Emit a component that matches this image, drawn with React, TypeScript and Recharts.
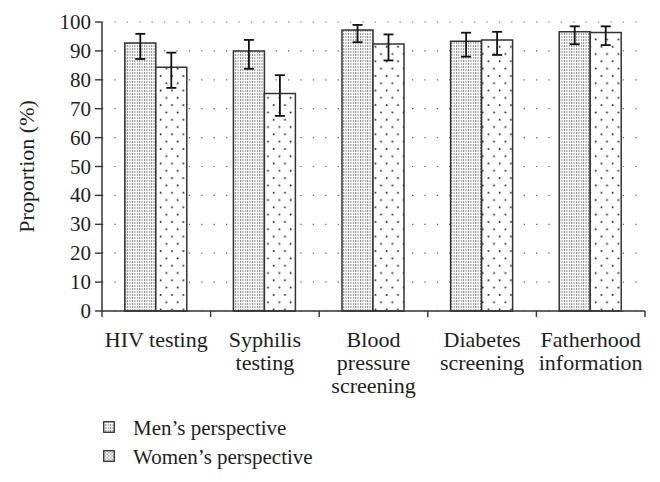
import React from 'react';
import { BarChart, Bar, XAxis, YAxis, CartesianGrid, ErrorBar, Legend } from 'recharts';

const categories = [
  'HIV testing',
  'Syphilis\ntesting',
  'Blood\npressure\nscreening',
  'Diabetes\nscreening',
  'Fatherhood\ninformation',
];
const menValues = [92.7, 90.0, 97.2, 93.3, 96.6];
const menLow = [87.2, 83.8, 93.0, 88.0, 92.3];
const menHigh = [95.9, 93.8, 99.0, 96.3, 98.5];
const womenValues = [84.3, 75.3, 92.4, 93.8, 96.4];
const womenLow = [77.2, 67.5, 86.7, 88.6, 92.0];
const womenHigh = [89.4, 81.6, 95.7, 96.6, 98.5];
const yTicks = [0, 10, 20, 30, 40, 50, 60, 70, 80, 90, 100];
const seriesNames = ['Men’s perspective', 'Women’s perspective'];

const data = categories.map((c, i) => ({
  category: c,
  men: menValues[i],
  women: womenValues[i],
  menErr: [+(menValues[i] - menLow[i]).toFixed(2), +(menHigh[i] - menValues[i]).toFixed(2)],
  womenErr: [+(womenValues[i] - womenLow[i]).toFixed(2), +(womenHigh[i] - womenValues[i]).toFixed(2)],
}));

const FONT = 'Liberation Serif';
const INK = '#1e1e1e';

const XTick = (props: any) => {
  const { x, y, payload, index } = props;
  const off = payload && payload.offset ? payload.offset : 0;
  const lines = String(payload.value).split('\n');
  return (
    <g>
      {index === 0 && (
        <line x1={x - off} y1={y} x2={x - off} y2={y + 6} stroke="#333" strokeWidth={1.4} />
      )}
      <line x1={x + off} y1={y} x2={x + off} y2={y + 6} stroke="#333" strokeWidth={1.4} />
      <text x={x} y={y + 36} textAnchor="middle" style={{ fontFamily: FONT, fontSize: 22 }} fill={INK}>
        {lines.map((l, i) => (
          <tspan key={i} x={x} dy={i === 0 ? 0 : 23}>
            {l}
          </tspan>
        ))}
      </text>
    </g>
  );
};

const YTick = (props: any) => {
  const { x, y, payload } = props;
  return (
    <text x={x} y={y} textAnchor="end" dominantBaseline="central" style={{ fontFamily: FONT, fontSize: 21 }} fill={INK}>
      {payload.value}
    </text>
  );
};

const YLabel = (props: any) => {
  const vb = props.viewBox || { x: 0, y: 0, width: 0, height: 0 };
  const cx = vb.x + 24;
  const cy = vb.y + vb.height / 2;
  return (
    <text
      x={cx}
      y={cy}
      transform={`rotate(-90, ${cx}, ${cy})`}
      textAnchor="middle"
      dominantBaseline="central"
      style={{ fontFamily: FONT, fontSize: 22 }}
      fill={INK}
    >
      Proportion (%)
    </text>
  );
};

const LegendContent = () => (
  <div style={{ fontFamily: FONT, fontSize: 21, color: INK, lineHeight: '29px' }}>
    {seriesNames.map((n, i) => (
      <div key={n} style={{ display: 'flex', alignItems: 'center', height: 29 }}>
        <svg width={12} height={12} style={{ marginRight: 18, position: 'relative', top: -2 }}>
          <rect
            x={0.7}
            y={0.7}
            width={10.6}
            height={10.6}
            fill={i === 0 ? 'url(#menPat)' : 'url(#womenLegPat)'}
            stroke="#333"
            strokeWidth={1.3}
          />
        </svg>
        <span style={{ fontFamily: FONT }}>{n}</span>
      </div>
    ))}
  </div>
);

export default function App() {
  return (
    <div style={{ position: 'absolute', left: 0, top: 0, width: 660, height: 482, background: '#fff', fontFamily: FONT }}>
      <BarChart
        width={660}
        height={482}
        data={data}
        margin={{ top: 22, right: 15, bottom: 71, left: 2 }}
        barCategoryGap="21%"
        barGap={0}
      >
        <defs>
          <pattern id="menPat" width={2.4} height={3} patternUnits="userSpaceOnUse">
            <rect width={2.4} height={3} fill="#fff" />
            <rect x={0} y={0} width={1} height={2} fill="#8a8a8a" />
          </pattern>
          <pattern id="womenPat" width={11.3} height={14.6} patternUnits="userSpaceOnUse">
            <rect width={11.3} height={14.6} fill="#fff" />
            <circle cx={2.5} cy={3} r={0.95} fill="#222" />
            <circle cx={8.15} cy={10.3} r={0.95} fill="#222" />
          </pattern>
          <pattern id="womenLegPat" width={3.4} height={3.4} patternUnits="userSpaceOnUse">
            <rect width={3.4} height={3.4} fill="#fff" />
            <circle cx={0.85} cy={0.85} r={0.6} fill="#333" />
            <circle cx={2.55} cy={2.55} r={0.6} fill="#333" />
          </pattern>
        </defs>
        <CartesianGrid vertical={false} stroke="#666" strokeWidth={1.2} strokeDasharray="1.3 11.1" />
        <XAxis
          dataKey="category"
          height={100}
          interval={0}
          tickLine={false}
          tickSize={0}
          tickMargin={0}
          axisLine={{ stroke: '#333', strokeWidth: 1.5 }}
          tick={<XTick />}
        />
        <YAxis
          width={100}
          domain={[0, 100]}
          ticks={yTicks}
          interval={0}
          tickSize={7}
          tickMargin={4}
          axisLine={{ stroke: '#333', strokeWidth: 1.5 }}
          tickLine={{ stroke: '#333', strokeWidth: 1.4 }}
          tick={<YTick />}
          label={<YLabel />}
        />
        <Legend
          layout="horizontal"
          verticalAlign="middle"
          align="center"
          content={<LegendContent />}
          wrapperStyle={{ position: 'absolute', left: 103, top: 414, width: 300, height: 60 }}
        />
        <Bar dataKey="men" name={seriesNames[0]} fill="url(#menPat)" stroke="#333" strokeWidth={1.5} isAnimationActive={false}>
          <ErrorBar dataKey="menErr" width={5} stroke="#111" strokeWidth={1.8} />
        </Bar>
        <Bar dataKey="women" name={seriesNames[1]} fill="url(#womenPat)" stroke="#333" strokeWidth={1.5} isAnimationActive={false}>
          <ErrorBar dataKey="womenErr" width={5} stroke="#111" strokeWidth={1.8} />
        </Bar>
      </BarChart>
    </div>
  );
}
